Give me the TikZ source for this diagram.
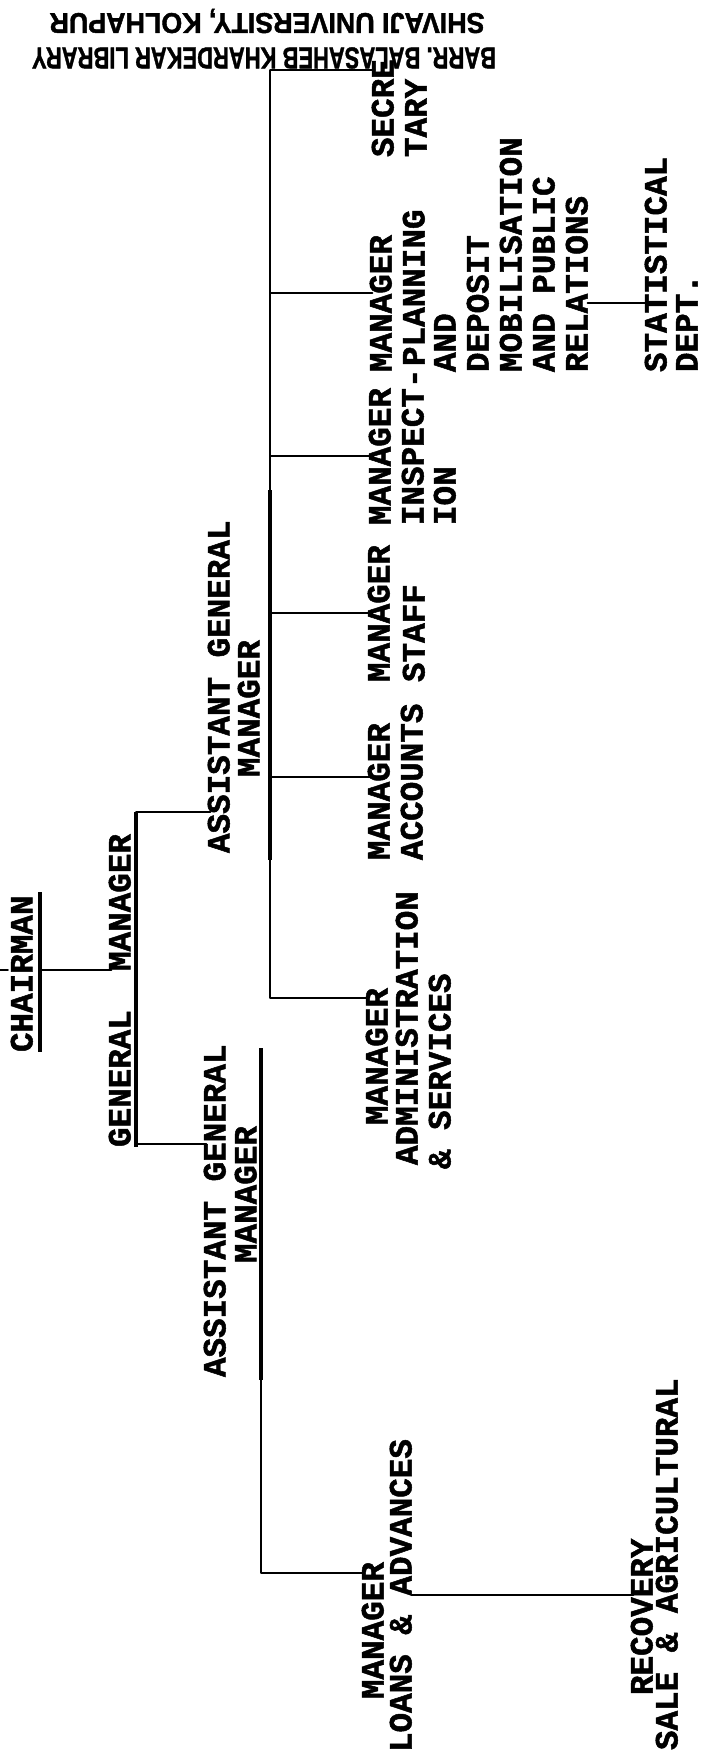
\documentclass[tikz,border=0pt]{standalone}
\usepackage{fontspec}
\usepackage{graphicx}
\setmainfont{Liberation Mono}[BoldFeatures={FakeBold=1.5}]
\newfontfamily\stampfont{Liberation Sans}[BoldFeatures={FakeBold=1.5}]
\tikzset{
  lbl/.style={rotate=90, anchor=west, inner sep=0pt, outer sep=0pt,
    text height=19pt, text depth=0pt,
    font=\fontsize{32.6}{33}\selectfont\bfseries},
  stamp/.style={rotate=180, inner sep=0pt, font=\stampfont\bfseries},
  conn/.style={line width=1.7pt, line cap=round},
  bus/.style={line width=2.8pt},
  thickbus/.style={line width=3.6pt},
}
\begin{document}
\begin{tikzpicture}[x=1pt,y=-1pt]
\useasboundingbox (0,0) rectangle (710,1764);

% stamp (printed upside down)
\node[stamp] (stamp1) at (267,21) {\resizebox{435pt}{20pt}{SHIVAJI UNIVERSITY, KOLHAPUR}};
\node[stamp] (stamp2) at (264,58) {\resizebox{464pt}{21pt}{BARR. BALASAHEB KHARDEKAR LIBRARY}};

% chairman
\node[lbl] (ch) at (23,1052) {CHAIRMAN};
\coordinate (chU1) at (40,892);
\coordinate (chU2) at (40,1052);
\draw[thickbus] (chU1) -- (chU2);
\coordinate (chJ) at (40,970);
\coordinate (stA) at (0,970);
\coordinate (stB) at (8,970);
\draw[conn] (stA) -- (stB);

% general manager
\node[lbl] (gm) at (121,1147) {GENERAL\ \ MANAGER};
\coordinate (gmT) at (136,812);
\coordinate (gmB) at (136,1147);
\coordinate (gmL) at (136,1144);
\draw[thickbus] (gmT) -- (gmB);
\draw[conn] (chJ) -- (chJ -| gm.north);

% assistant general managers
\node[lbl] (ua1) at (220,853) {ASSISTANT GENERAL};
\node[lbl] (ua2) at (250,777) {MANAGER};
\draw[conn] (gmT) -- (gmT -| ua1.north);
\node[lbl] (la1) at (216,1377) {ASSISTANT GENERAL};
\node[lbl] (la2) at (247,1263) {MANAGER};
\draw[conn] (gmL) -- (gmL -| la1.north);

% upper bus
\coordinate (ubT) at (270,70);
\coordinate (ubB) at (270,998);
\coordinate (ubK1) at (270,490);
\coordinate (ubK2) at (270,860);
\draw[bus] (ubT) -- (ubB);
\draw[thickbus] (ubK1) -- (ubK2);

% secretary
\node[lbl] (se1) at (384,157) {SECRE};
\node[lbl] (se2) at (417,157) {TARY};
\draw[conn] (ubT) -- (ubT -| se1.north);

% planning and deposit mobilisation
\node[lbl] (pl1) at (382,372) {MANAGER};
\node[lbl] (pl2) at (415,366) {PLANNING};
\node[lbl] (pl3) at (446,372) {AND};
\node[lbl] (pl4) at (479,372) {DEPOSIT};
\node[lbl] (pl5) at (512,372) {MOBILISATION};
\node[lbl] (pl6) at (545,372) {AND PUBLIC};
\node[lbl] (pl7) at (578,372) {RELATIONS};
\coordinate (bPl) at (270,293);
\draw[conn] (bPl) -- (bPl -| pl1.north);

% statistical dept
\node[lbl] (st1) at (657,372) {STATISTICAL};
\node[lbl] (st2) at (688,372) {DEPT.};
\coordinate (rs) at (620,303);
\draw[conn] (pl7.south |- rs) -- (st1.north |- rs);

% inspection
\node[lbl] (in1) at (381,525) {MANAGER};
\node[lbl] (in2) at (414,525) {INSPECT-};
\node[lbl] (in3) at (446,525) {ION};
\coordinate (bIn) at (270,456);
\draw[conn] (bIn) -- (bIn -| in1.north);

% staff
\node[lbl] (sf1) at (380,682) {MANAGER};
\node[lbl] (sf2) at (415,682) {STAFF};
\coordinate (bSf) at (270,613);
\draw[conn] (bSf) -- (bSf -| sf1.north);

% accounts
\node[lbl] (ac1) at (380,860) {MANAGER};
\node[lbl] (ac2) at (413,860) {ACCOUNTS};
\coordinate (bAc) at (270,777);
\draw[conn] (bAc) -- (bAc -| ac1.north);

% administration
\node[lbl] (ad1) at (378,1125) {MANAGER};
\node[lbl] (ad2) at (408,1165) {ADMINISTRATION};
\node[lbl] (ad3) at (441,1169) {\&~SERVICES};
\draw[conn] (ubB) -- (ubB -| ad1.north);

% lower bus
\coordinate (lbT) at (261,1048);
\coordinate (lbM) at (261,1380);
\coordinate (lbB) at (261,1573);
\draw[thickbus] (lbT) -- (lbM);
\draw[bus] (lbM) -- (lbB);

% loans and advances
\node[lbl] (lo1) at (374,1699) {MANAGER};
\node[lbl] (lo2) at (402,1752) {LOANS \& ADVANCES};
\draw[conn] (lbB) -- (lbB -| lo1.north);

% recovery
\node[lbl] (re1) at (643,1695) {RECOVERY};
\node[lbl] (re2) at (668,1750) {SALE \& AGRICULTURAL};
\coordinate (lr) at (520,1595);
\draw[conn] (lo2.south |- lr) -- (re1.north |- lr);
\end{tikzpicture}
\end{document}
